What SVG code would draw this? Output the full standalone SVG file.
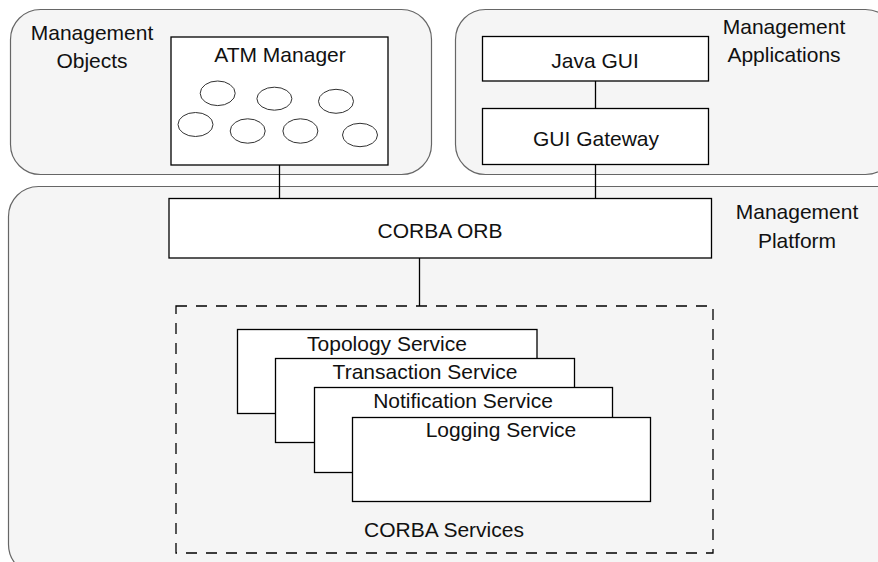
<svg xmlns="http://www.w3.org/2000/svg" width="878" height="562" viewBox="0 0 878 562">
<style>
.panel{fill:#f5f5f5;stroke:#666;stroke-width:1.2}
.box{fill:#fff;stroke:#000;stroke-width:1.3}
.ell{fill:#fff;stroke:#333;stroke-width:1}
.dash{fill:none;stroke:#000;stroke-width:1.3;stroke-dasharray:11 9}
.t{font-family:"Liberation Sans",Arial,sans-serif;font-size:21px;fill:#111;text-anchor:middle}
.conn{stroke:#000;stroke-width:1.3;fill:none}
</style>
<rect width="878" height="562" fill="#fff"/>
<g id="management-platform">
<rect class="panel" x="8.5" y="186.5" width="900" height="388" rx="30"/>
<text class="t" x="797" y="219">Management</text>
<text class="t" x="797" y="248">Platform</text>
</g>
<g id="management-objects">
<rect class="panel" x="10.5" y="9.5" width="421" height="165" rx="30"/>
<text class="t" x="92" y="40">Management</text>
<text class="t" x="92" y="68">Objects</text>
</g>
<g id="management-applications">
<rect class="panel" x="455.5" y="9.5" width="440" height="165" rx="30"/>
<text class="t" x="784" y="34">Management</text>
<text class="t" x="784" y="62">Applications</text>
</g>
<g id="connectors">
<line class="conn" x1="279.5" y1="165" x2="279.5" y2="198.5"/>
<line class="conn" x1="595.5" y1="81" x2="595.5" y2="108.5"/>
<line class="conn" x1="595.5" y1="164.5" x2="595.5" y2="198.5"/>
<line class="conn" x1="419.5" y1="258" x2="419.5" y2="306"/>
</g>
<g id="atm-manager">
<rect class="box" x="171" y="37" width="217" height="128"/>
<text class="t" x="280" y="62">ATM Manager</text>
<ellipse class="ell" cx="217.7" cy="93.3" rx="17.5" ry="12.3"/>
<ellipse class="ell" cx="274.4" cy="98.7" rx="17.5" ry="11.5"/>
<ellipse class="ell" cx="336" cy="101.3" rx="17.5" ry="12"/>
<ellipse class="ell" cx="195.5" cy="124.5" rx="17.5" ry="12"/>
<ellipse class="ell" cx="247.7" cy="131" rx="17.5" ry="12.2"/>
<ellipse class="ell" cx="300.4" cy="131" rx="17.5" ry="12.2"/>
<ellipse class="ell" cx="360" cy="135" rx="17.5" ry="11.7"/>
</g>
<g id="java-gui">
<rect class="box" x="482.5" y="36.5" width="226" height="44.5"/>
<text class="t" x="595" y="68">Java GUI</text>
</g>
<g id="gui-gateway">
<rect class="box" x="482.5" y="108.5" width="226" height="56"/>
<text class="t" x="596" y="146">GUI Gateway</text>
</g>
<g id="corba-orb">
<rect class="box" x="169" y="198.5" width="542.5" height="59.5"/>
<text class="t" x="440" y="237.5">CORBA ORB</text>
</g>
<g id="corba-services">
<rect class="dash" x="176" y="306" width="537" height="247"/>
<text class="t" x="444" y="537">CORBA Services</text>
</g>
<g id="topology-service">
<rect class="box" x="237.5" y="329.5" width="299.5" height="84"/>
<text class="t" x="387" y="351">Topology Service</text>
</g>
<g id="transaction-service">
<rect class="box" x="275.5" y="358.5" width="299" height="84"/>
<text class="t" x="425" y="379">Transaction Service</text>
</g>
<g id="notification-service">
<rect class="box" x="314.5" y="387.5" width="298" height="85"/>
<text class="t" x="463" y="408">Notification Service</text>
</g>
<g id="logging-service">
<rect class="box" x="352.5" y="417.5" width="298" height="84"/>
<text class="t" x="501" y="437">Logging Service</text>
</g>
</svg>
